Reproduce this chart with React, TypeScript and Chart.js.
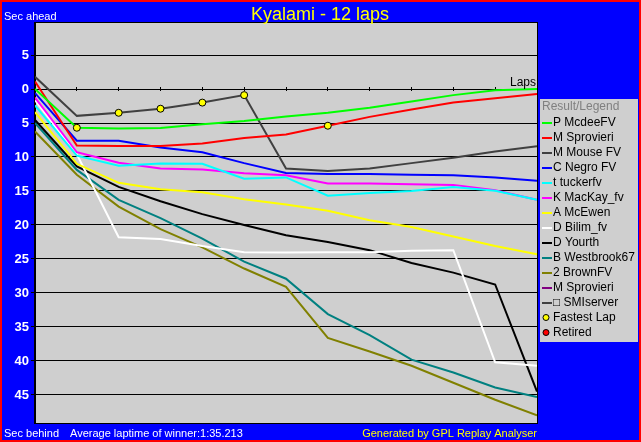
import React, { useEffect, useRef } from "react";
import { Chart, registerables } from "chart.js";

Chart.register(...registerables);

// ---------- data ----------
const LAPS = [0, 1, 2, 3, 4, 5, 6, 7, 8, 9, 10, 11, 12];
const Y_TICKS = [-5, 0, 5, 10, 15, 20, 25, 30, 35, 40, 45];

const DRIVERS = [
  "P McdeeFV",
  "M Sprovieri",
  "M Mouse FV",
  "C Negro FV",
  "t tuckerfv",
  "K MacKay_fv",
  "A McEwen",
  "D Bilim_fv",
  "D Yourth",
  "B Westbrook67",
  "2 BrownFV",
  "M Sprovieri",
  "\u25A1 SMIserver",
];
const COLORS = [
  "#00ff00",
  "#ff0000",
  "#404040",
  "#0000ff",
  "#00ffff",
  "#ff00ff",
  "#ffff00",
  "#ffffff",
  "#000000",
  "#008080",
  "#808000",
  "#800080",
  "#404040",
];

// seconds behind leader at each lap (negative = ahead)
const MCDEE = [0.0, 5.7, 5.8, 5.75, 5.2, 4.7, 4.05, 3.5, 2.75, 1.85, 0.9, 0.2, 0.0];
const SPROVIERI = [-1.1, 8.3, 8.4, 8.4, 8.0, 7.2, 6.7, 5.4, 4.1, 3.0, 2.0, 1.35, 0.75];
const MOUSE = [-1.8, 3.95, 3.5, 2.9, 2.0, 0.9, 11.7, 12.05, 11.7, 10.9, 10.1, 9.2, 8.4];
const NEGRO = [0.6, 7.6, 7.6, 8.6, 9.3, 10.9, 12.35, 12.5, 12.5, 12.6, 12.7, 13.0, 13.5];
const TUCKER = [2.4, 9.8, 11.3, 10.95, 11.0, 13.2, 13.0, 15.7, 15.3, 15.0, 14.4, 14.95, 16.3];
const MACKAY = [1.25, 9.3, 10.85, 11.7, 11.85, 12.4, 12.7, 13.9, 13.9, 14.0, 14.1, 14.9, 16.3];
const MCEWEN = [3.4, 11.0, 13.8, 14.75, 15.2, 16.2, 17.0, 17.9, 19.3, 20.3, 21.7, 23.1, 24.3];
const BILIM = [1.65, 9.6, 21.8, 22.05, 23.1, 24.0, 24.05, 24.0, 24.0, 23.8, 23.7, 40.2, 40.7];
const YOURTH = [4.55, 11.4, 14.4, 16.5, 18.4, 20.0, 21.5, 22.5, 23.7, 25.6, 27.0, 28.75, 44.5];
const WESTBROOK = [5.0, 11.9, 16.3, 19.0, 22.0, 25.4, 27.9, 33.1, 36.2, 39.8, 41.7, 43.9, 45.3];
const BROWN = [6.25, 12.6, 17.3, 20.6, 23.3, 26.4, 29.1, 36.6, 38.6, 40.7, 43.2, 45.7, 48.0];
const SPROVIERI2: number[] = [];
const SMISERVER: number[] = [];

const SERIES = [
  MCDEE, SPROVIERI, MOUSE, NEGRO, TUCKER, MACKAY, MCEWEN,
  BILIM, YOURTH, WESTBROOK, BROWN, SPROVIERI2, SMISERVER,
];

// fastest lap markers: lap number and driver index
const FASTEST_LAPS = [1, 2, 3, 4, 5, 7];
const FASTEST_DRIVER = [0, 2, 2, 2, 2, 1];

const TITLE = "Kyalami - 12 laps";
const FOOT_LEFT = "Sec behind";
const FOOT_MID = "Average laptime of winner:1:35.213";
const FOOT_RIGHT = "Generated by GPL Replay Analyser";
const TOP_LEFT = "Sec ahead";
const LEGEND_TITLE = "Result/Legend";

const FONT = '"Liberation Sans", Arial, sans-serif';
const PLOT_BG = "#cfcfcf";

const framePlugin = {
  id: "frame",
  beforeDraw(chart: any) {
    const { ctx, width, height, chartArea } = chart;
    ctx.save();
    ctx.fillStyle = "#ff0000";
    ctx.fillRect(0, 0, width, height);
    ctx.fillStyle = "#0000ff";
    ctx.fillRect(2, 2, width - 4, height - 4);
    ctx.fillStyle = PLOT_BG;
    ctx.fillRect(chartArea.left, chartArea.top, chartArea.right - chartArea.left, chartArea.bottom - chartArea.top);
    // legend box
    ctx.fillRect(540, 99, 98, 243);
    ctx.restore();
  },
  afterDraw(chart: any) {
    const { ctx, chartArea } = chart;
    ctx.save();
    // plot border
    ctx.strokeStyle = "#000000";
    ctx.lineWidth = 1;
    ctx.strokeRect(chartArea.left - 0.5, chartArea.top - 0.5, chartArea.right - chartArea.left + 1, chartArea.bottom - chartArea.top + 1);

    // texts
    ctx.textBaseline = "alphabetic";
    ctx.fillStyle = "#ffffff";
    ctx.font = `11px ${FONT}`;
    ctx.textAlign = "left";
    ctx.fillText(TOP_LEFT, 4, 20);
    ctx.fillText(FOOT_LEFT, 4, 437);
    ctx.fillText(FOOT_MID, 70, 437);
    ctx.fillStyle = "#ffff00";
    ctx.textAlign = "right";
    ctx.fillText(FOOT_RIGHT, 537, 437);
    ctx.font = `18px ${FONT}`;
    ctx.textAlign = "center";
    ctx.fillText(TITLE, 320, 20);

    // Laps label
    ctx.fillStyle = "#000000";
    ctx.font = `12px ${FONT}`;
    ctx.textAlign = "right";
    ctx.fillText("Laps", 536, 86);

    // legend
    ctx.textAlign = "left";
    ctx.textBaseline = "middle";
    ctx.fillStyle = "#808080";
    ctx.fillText(LEGEND_TITLE, 542, 107);
    let y = 122.5;
    chart.data.datasets.forEach((ds: any) => {
      if (ds.legendKind === "line") {
        ctx.strokeStyle = ds.borderColor;
        ctx.lineWidth = 2;
        ctx.beginPath();
        ctx.moveTo(542, Math.round(y) + 0);
        ctx.lineTo(552, Math.round(y) + 0);
        ctx.stroke();
      } else {
        ctx.fillStyle = ds.pointBackgroundColor;
        ctx.strokeStyle = "#000000";
        ctx.lineWidth = 1;
        ctx.beginPath();
        ctx.arc(546, y, 3, 0, Math.PI * 2);
        ctx.fill();
        ctx.stroke();
      }
      ctx.fillStyle = "#000000";
      ctx.fillText(ds.label, 553, y);
      y += 15;
    });
    ctx.restore();
  },
};

export default function App() {
  const ref = useRef<HTMLCanvasElement | null>(null);

  useEffect(() => {
    document.body.style.margin = "0";
    const canvas = ref.current;
    if (!canvas) return;

    const driverSets = DRIVERS.map((name, i) => ({
      label: name,
      legendKind: "line",
      data: SERIES[i].map((v, k) => ({ x: LAPS[k], y: v })),
      borderColor: COLORS[i],
      backgroundColor: COLORS[i],
      borderWidth: 2,
      pointRadius: 0,
      tension: 0,
      fill: false,
    }));

    const fastest = {
      label: "Fastest Lap",
      legendKind: "point",
      data: FASTEST_LAPS.map((lap, i) => ({ x: lap, y: SERIES[FASTEST_DRIVER[i]][lap] })),
      showLine: false,
      pointRadius: 3.5,
      pointBackgroundColor: "#ffff00",
      pointBorderColor: "#000000",
      pointBorderWidth: 1,
      borderColor: "#000000",
      backgroundColor: "#ffff00",
      order: -1,
    };

    const retired = {
      label: "Retired",
      legendKind: "point",
      data: [] as any[],
      showLine: false,
      pointRadius: 3.5,
      pointBackgroundColor: "#ff0000",
      pointBorderColor: "#000000",
      borderColor: "#000000",
      backgroundColor: "#ff0000",
      order: -2,
    };

    const chart = new Chart(canvas, {
      type: "line",
      data: { datasets: [...driverSets, fastest, retired] as any },
      options: {
        animation: false,
        responsive: false,
        devicePixelRatio: 1,
        parsing: false as any,
        layout: { padding: { left: 0, top: 23, right: 104, bottom: 19 } },
        plugins: {
          legend: { display: false },
          tooltip: { enabled: false },
          title: { display: false },
        },
        scales: {
          x: {
            type: "linear",
            min: 0,
            max: 12,
            position: { y: -0.3 } as any,
            ticks: { display: false, stepSize: 1 },
            grid: { drawOnChartArea: false, drawTicks: true, tickLength: 4, color: "#000000" },
            border: { display: false },
          },
          y: {
            type: "linear",
            reverse: true,
            min: -9.706,
            max: 49.118,
            afterBuildTicks: (scale: any) => {
              scale.ticks = Y_TICKS.map((value) => ({ value }));
            },
            afterFit: (scale: any) => {
              scale.width = 35;
            },
            ticks: {
              color: "#ffffff",
              padding: 2,
              font: { family: FONT, size: 13, weight: "bold" },
              callback: (v: any) => String(Math.abs(Number(v))),
            },
            grid: { color: "#000000", lineWidth: 1, tickLength: 4 },
            border: { display: true, color: "#000000" },
          },
        },
      },
      plugins: [framePlugin],
    });

    return () => chart.destroy();
  }, []);

  return (
    <div style={{ width: 641, height: 442 }}>
      <canvas ref={ref} width={641} height={442} style={{ display: "block", width: 641, height: 442 }} />
    </div>
  );
}
